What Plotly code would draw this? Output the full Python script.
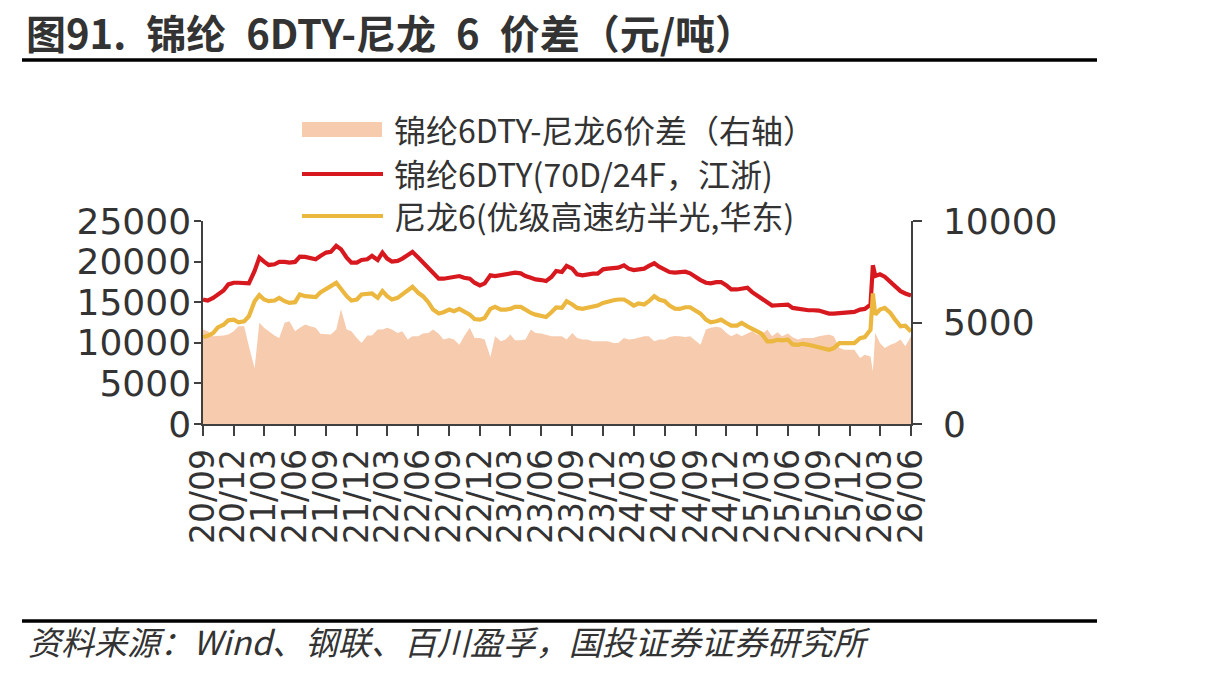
import pandas as pd
import plotly.graph_objects as go

# ---------------- data ----------------
dates = pd.date_range("2020-09-01", "2026-06-01", freq="SMS")  # 1st & 15th of each month

red_dty = [  # 锦纶6DTY(70D/24F, 江浙), left axis
    15330, 15206, 15536, 15950, 16445, 17189, 17396, 17396, 17313, 17313, 18842, 20495,
    20000, 19586, 19670, 19957, 19957, 19875, 19957, 20620, 20578, 20453, 20288, 20700,
    21115, 21197, 21941, 21528, 20495, 19875, 19875, 20206, 20288, 20701, 20206, 21115,
    20371, 19999, 20082, 20371, 20784, 21197, 20495, 19875, 19255, 18635, 17900,
    17892, 18015, 18139, 18222, 18015, 17892, 17396, 17065, 17313, 18304, 18222, 18346,
    18470, 18511, 18635, 18553, 18222, 18015, 17809, 17726, 17602, 18098, 18842,
    18718, 19462, 19131, 18429, 18305, 18429, 18511, 18511, 19049, 19131, 19131, 19255,
    19544, 19131, 18966, 19049, 19131, 19462, 19792, 19379, 19049, 18718, 18635,
    18635, 18759, 18553, 18015, 17726, 17396, 17313, 17478, 17478, 17065, 16569, 16569,
    16652, 16776, 16239, 15826, 15536, 14917, 14586, 14627, 14710, 14710, 14300,
    14173, 14090, 14008, 14008, 13966, 13801, 13594, 13594, 13677, 13759, 13759, 13801,
    14090, 14173, 14710, 18222, 18429, 18139, 17478, 16982, 16363, 16074, 15826,
]

yellow_pa6 = [  # 尼龙6(优级高速纺半光, 华东), left axis
    10702, 10867, 11198, 11900, 12231, 12768, 12851, 12520, 12644, 13264, 15123, 15867,
    15330, 15123, 15206, 15536, 15123, 14917, 15000, 15950, 15743, 15660, 15619, 16200,
    16569, 16982, 17396, 16569, 15743, 15206, 15330, 15950, 16032, 16074, 15536, 16363,
    15743, 15330, 15536, 15950, 16569, 16900, 16156, 15743, 14999, 14090, 13600,
    13760, 14090, 13884, 14173, 13884, 13470, 12933, 12851, 13057, 14173, 14421, 14090,
    14090, 14173, 14421, 14421, 14090, 13677, 13470, 13264, 13181, 13760, 14350,
    14297, 15123, 14710, 14297, 14173, 14297, 14421, 14586, 14917, 15123, 15247, 15330,
    15330, 14999, 14586, 14834, 14710, 15123, 15743, 15330, 15123, 14586, 14214,
    14173, 14380, 14380, 13966, 13594, 12851, 12520, 12644, 12851, 12437, 12107, 12107,
    12437, 12024, 11694, 11405, 11115, 10165, 10165, 10372, 10289, 10372, 9800,
    9752, 9876, 9752, 9628, 9462, 9256, 9132, 9338, 9958, 9958, 9958, 9958,
    10578, 10702, 11611, 13470, 14090, 14297, 13677, 12851, 12024, 12107, 11405,
]

spread = [  # 锦纶6DTY-尼龙6价差, right axis
    4653, 4570, 4322, 4322, 4355, 4405, 4570, 4819, 4819, 3825, 2750, 4985,
    4736, 4570, 4355, 4240, 4985, 5067, 4570, 4736, 4902, 4819, 4736, 4450,
    4405, 4405, 4653, 5650, 4653, 4570, 4240, 3991, 4355, 4355, 4653, 4653,
    4736, 4653, 4488, 4570, 4157, 4322, 4322, 4455, 4488, 4653, 4450,
    4157, 4240, 4157, 3908, 4322, 4736, 4240, 4240, 4157, 3300, 4322, 4074,
    4157, 4405, 4123, 4123, 4157, 4653, 4488, 4455, 4405, 4322, 4322,
    4322, 4157, 4488, 4240, 4157, 4157, 4074, 4074, 4074, 4074, 3991, 3991,
    4240, 4157, 4190, 4240, 4322, 4322, 4074, 4157, 4157, 4289, 4340,
    4322, 4289, 4322, 4074, 3908, 4653, 4736, 4786, 4736, 4488, 4322, 4455,
    4322, 4455, 4570, 4405, 4405, 4653, 4322, 4521, 4322, 4455, 4270,
    4157, 4240, 4240, 4240, 4322, 4355, 4405, 4322, 3743, 3660, 3660, 3660,
    3246, 3411, 3329, 4488, 3991, 3743, 3908, 3991, 4157, 3825, 4322,
]

# extra point at the Feb-2026 spike
extra_dates = ["2026-02-08"]
extra_red = [19544]
extra_yellow = [16074]
extra_spread = [2583]

names = ["锦纶6DTY-尼龙6价差（右轴）", "锦纶6DTY(70D/24F，江浙)", "尼龙6(优级高速纺半光,华东)"]
left_ticks = [0, 5000, 10000, 15000, 20000, 25000]
right_ticks = [0, 5000, 10000]

df = pd.DataFrame({
    "date": list(dates) + list(pd.to_datetime(extra_dates)),
    "red": red_dty + extra_red,
    "yellow": yellow_pa6 + extra_yellow,
    "spread": spread + extra_spread,
}).sort_values("date")

# ---------------- layout helpers ----------------
W, H = 1213, 675
PL, PR, PT, PB = 203, 911, 221, 424


def px(x):
    return (x - PL) / (PR - PL)


def py(y):
    return (PB - y) / (PB - PT)


PEACH = "#F6CBAE"
RED = "#D7191F"
YEL = "#EBB73E"
TXT = "#333333"
AX = "#404040"
CJK = "Noto Sans CJK SC"
NUM = "DejaVu Sans"

fig = go.Figure()
fig.add_trace(go.Scatter(x=df["date"], y=df["spread"], mode="lines", fill="tozeroy",
                         line=dict(width=0, color=PEACH), fillcolor=PEACH,
                         yaxis="y", name=names[0], showlegend=False))
fig.add_trace(go.Scatter(x=df["date"], y=df["red"], mode="lines",
                         line=dict(width=4.2, color=RED), yaxis="y2",
                         name=names[1], showlegend=False))
fig.add_trace(go.Scatter(x=df["date"], y=df["yellow"], mode="lines",
                         line=dict(width=4.2, color=YEL), yaxis="y2",
                         name=names[2], showlegend=False))

axis_common = dict(showgrid=False, zeroline=False, showline=True, linecolor=AX, linewidth=1.5,
                   ticks="outside", tickcolor=AX, tickwidth=1.5)
yfont = dict(family=NUM, size=36, color=TXT)
xfont = dict(family=NUM, size=33, color=TXT)

fig.update_layout(
    width=W, height=H,
    margin=dict(l=PL, r=W - PR, t=PT, b=H - PB, pad=0),
    paper_bgcolor="white", plot_bgcolor="white",
    showlegend=False,
    xaxis=dict(type="date", range=[dates[0], dates[-1]], tick0="2020-09-01", dtick="M3",
               tickformat="%y/%m", tickangle=-90, ticklen=10, tickfont=xfont, **axis_common),
    yaxis=dict(side="right", range=[0, 10000], tickvals=right_ticks,
               ticktext=[str(v) for v in right_ticks], ticklen=9,
               ticklabelstandoff=14, tickfont=yfont, **axis_common),
    yaxis2=dict(side="left", overlaying="y", range=[0, 25000], tickvals=left_ticks,
                ticktext=[str(v) for v in left_ticks], ticklen=7, ticklabelstandoff=-4,
                tickfont=yfont, **axis_common),
)

# title and rules
title_text = "图91.\u2002锦纶\u20026DTY-尼龙\u20026\u2002价差（元/吨）"
fig.add_annotation(text="<b>" + title_text + "</b>", xref="paper", yref="paper",
                   x=px(24), y=py(32), xanchor="left", yanchor="middle", showarrow=False,
                   font=dict(family=CJK, size=40, color=TXT))
for yy in (60, 621):
    fig.add_shape(type="line", xref="paper", yref="paper", x0=px(22), x1=px(1097),
                  y0=py(yy), y1=py(yy), line=dict(color="black", width=3.5))
fig.add_annotation(text="资料来源：Wind、钢联、百川盈孚，国投证券证券研究所", xref="paper", yref="paper",
                   x=px(26), y=py(641), xanchor="left", yanchor="middle", showarrow=False,
                   font=dict(family=CJK, size=33, color=TXT, style="italic"))

# legend (drawn manually)
fig.add_shape(type="rect", xref="paper", yref="paper", x0=px(302), x1=px(382),
              y0=py(137), y1=py(122), fillcolor=PEACH, line=dict(width=0))
fig.add_shape(type="line", xref="paper", yref="paper", x0=px(302), x1=px(383),
              y0=py(174), y1=py(174), line=dict(color=RED, width=4))
fig.add_shape(type="line", xref="paper", yref="paper", x0=px(302), x1=px(383),
              y0=py(216), y1=py(216), line=dict(color=YEL, width=4))
for name, yy in zip(names, (129, 173, 215)):
    fig.add_annotation(text=name, xref="paper", yref="paper", x=px(392), y=py(yy),
                       xanchor="left", yanchor="middle", showarrow=False,
                       font=dict(family=CJK, size=32, color=TXT))

fig.write_html("out.html")
